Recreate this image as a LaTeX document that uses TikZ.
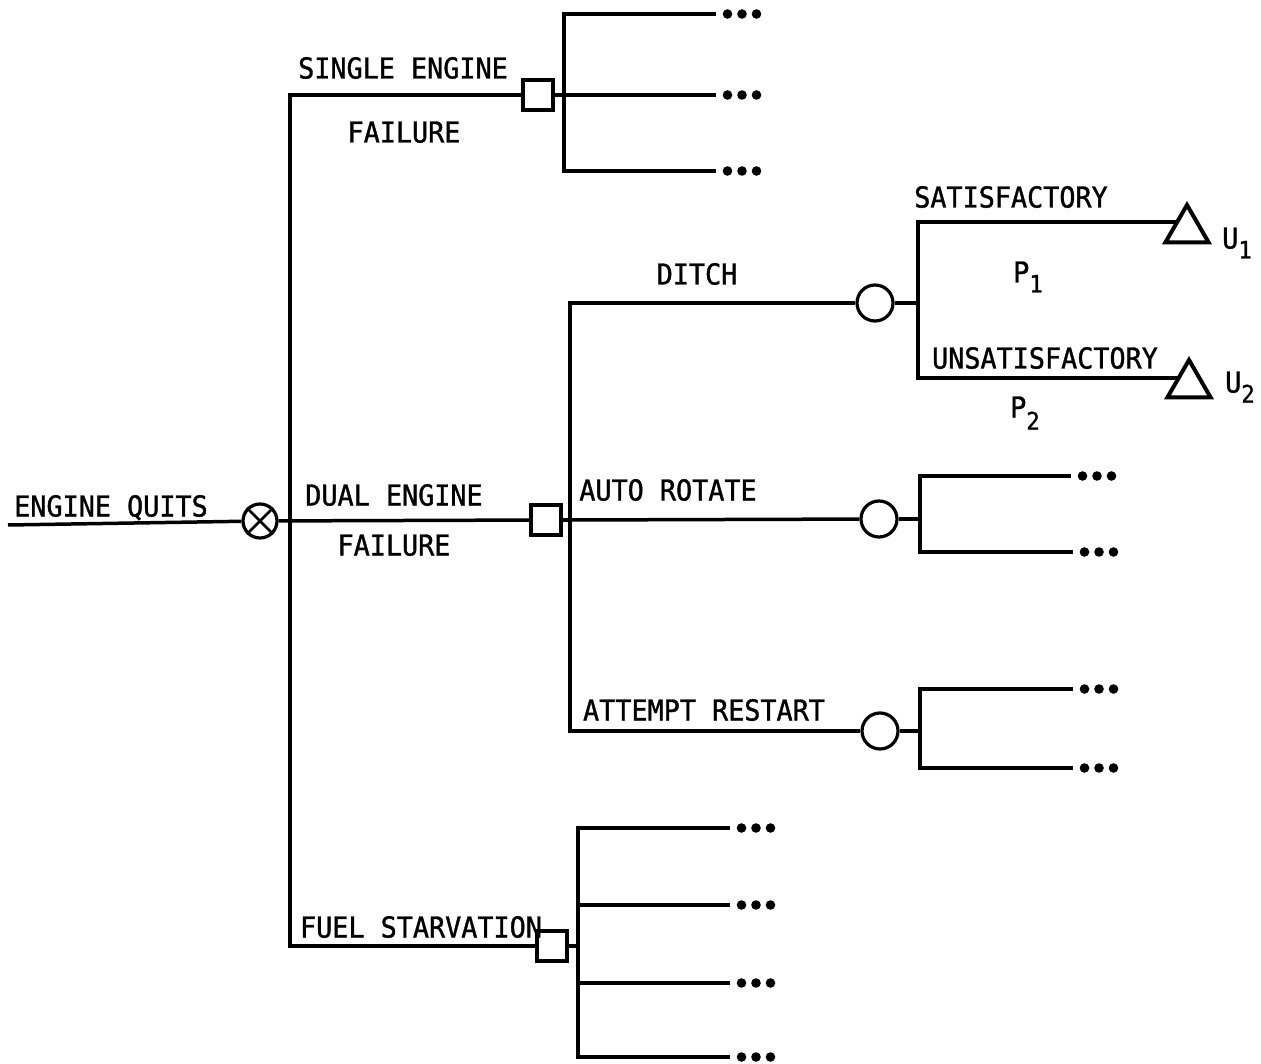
\documentclass[tikz,border=0pt]{standalone}
\usepackage{fontspec}
\newfontfamily\labfont[FakeStretch=0.93,FakeBold=1.2]{DejaVu Sans Mono}
\usetikzlibrary{shapes.geometric,backgrounds}
\begin{document}
\begin{tikzpicture}[x=1pt,y=-1pt,line width=3.5pt,line join=miter,
  lab/.style={font=\labfont\fontsize{28.8}{30}\selectfont, inner sep=0pt, text height=21pt, text depth=0pt, anchor=center},
  decision/.style={draw, rectangle, minimum size=30pt, inner sep=0pt, fill=white, line width=3.2pt},
  chance/.style={draw, circle, minimum size=36pt, inner sep=0pt, fill=white, line width=3.2pt},
  term/.style={draw, regular polygon, regular polygon sides=3, minimum size=50pt, inner sep=0pt, fill=white, line width=4pt},
  conn/.style={line width=3.5pt, line join=miter},
  ellip/.style={minimum width=48pt, minimum height=12pt, inner sep=0pt,
    path picture={\foreach \k in {-1,0,1} \fill ([xshift=\k*14.5pt]path picture bounding box.center) circle (4.8pt);}}
]
\useasboundingbox (0,0) rectangle (1261,1064);

% ---- nodes ----
\coordinate (st) at (8,525);
\node[chance, minimum size=34pt] (xq) at (260,521) {};
\draw[line width=2.8pt] (xq.45) -- (xq.225) (xq.135) -- (xq.315);
\coordinate (mj) at (290,520);

\node[decision] (b1) at (538,95) {};
\node[decision] (b2) at (546,520) {};
\node[decision] (b3) at (552,946) {};

\coordinate (s1) at (564,95);
\node[ellip] (e11) at (742,14) {};
\node[ellip] (e12) at (742,95) {};
\node[ellip] (e13) at (742,171) {};

\coordinate (dj) at (570,520);
\node[chance] (c1) at (875,303) {};
\node[chance] (c2) at (879,519) {};
\node[chance] (c3) at (880,731) {};

\coordinate (k1) at (918,303);
\coordinate (k1a) at (918,222);
\coordinate (k1b) at (918,378);
\node[term] (t1) at (1187,230) {};
\node[term] (t2) at (1189,385) {};

\coordinate (k2) at (920,519);
\node[ellip] (e21) at (1097,476) {};
\node[ellip] (e22) at (1099,552) {};
\coordinate (k3) at (920,731);
\node[ellip] (e31) at (1099,689) {};
\node[ellip] (e32) at (1099,768) {};

\coordinate (fj) at (578,946);
\node[ellip] (e41) at (756,828) {};
\node[ellip] (e42) at (756,905) {};
\node[ellip] (e43) at (756,983) {};
\node[ellip] (e44) at (756,1057) {};

% ---- connectors ----
\begin{scope}[on background layer]
\draw[conn] (st) -- (xq);
\draw[conn] (xq) -- (b2);
\draw[conn] (b1) -| (mj) |- (b3);

\draw[conn] (b1) -- (s1);
\draw[conn] (e11) -| (s1) |- (e13);
\draw[conn] (s1) -- (e12);

\draw[conn] (b2) -- (dj);
\draw[conn] (c1) -| (dj) |- (c3);
\draw[conn] (dj) -- (c2);

\draw[conn] (c1) -- (k1);
\draw[conn] (t1.center |- k1a) -- (k1a) -- (k1b) -- (t2.center |- k1b);

\draw[conn] (c2) -- (k2);
\draw[conn] (e21) -| (k2) |- (e22);
\draw[conn] (c3) -- (k3);
\draw[conn] (e31) -| (k3) |- (e32);

\draw[conn] (b3) -- (fj);
\draw[conn] (e41) -| (fj) |- (e44);
\draw[conn] (e42) -- (e42 -| fj);
\draw[conn] (e43) -- (e43 -| fj);
\end{scope}

% ---- labels ----
\node[lab] (lq) at (111,506) {ENGINE QUITS};
\node[lab] (l1a) at (403,68) {SINGLE ENGINE};
\node[lab] (l1b) at (404,132) {FAILURE};
\node[lab] (l2a) at (394,495) {DUAL ENGINE};
\node[lab] (l2b) at (394,545) {FAILURE};
\node[lab] (l3) at (421,927) {FUEL STARVATION};
\node[lab] (ld) at (697,274) {DITCH};
\node[lab] (la) at (668,490) {AUTO ROTATE};
\node[lab] (lr) at (704,710) {ATTEMPT RESTART};
\node[lab] (ls) at (1011,197) {SATISFACTORY};
\node[lab] (lu) at (1045,358) {UNSATISFACTORY};
\node[lab] (p1) at (1028,272) {P\raisebox{-10pt}{\fontsize{24}{24}\selectfont 1}};
\node[lab] (p2) at (1025,407) {P\raisebox{-12pt}{\fontsize{24}{24}\selectfont 2}};
\node[lab] (u1) at (1237,238) {U\raisebox{-10pt}{\fontsize{24}{24}\selectfont 1}};
\node[lab] (u2) at (1240,382) {U\raisebox{-10pt}{\fontsize{24}{24}\selectfont 2}};
\end{tikzpicture}
\end{document}
